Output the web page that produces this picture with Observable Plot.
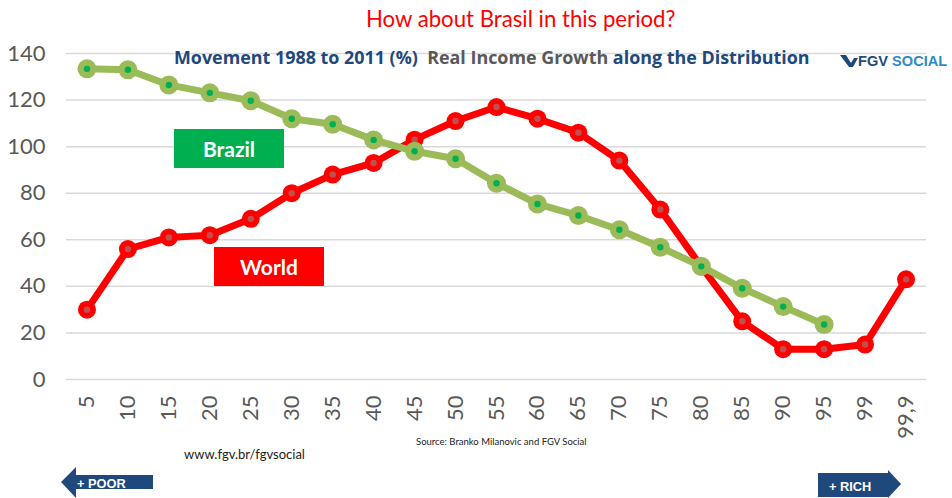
<!DOCTYPE html>
<html>
<head>
<meta charset="utf-8">
<script src="https://cdn.jsdelivr.net/npm/d3@7"></script>
<script src="https://cdn.jsdelivr.net/npm/@observablehq/plot@0.6"></script>
<style>
  html, body { margin: 0; padding: 0; background: #fff; }
  #wrap { position: relative; width: 952px; height: 498px; overflow: hidden; font-family: Lato, "Open Sans", sans-serif; }
  .abs { position: absolute; white-space: nowrap; }
</style>
</head>
<body>
<div id="wrap"></div>
<script>
// ---- data ----
const percentiles = ["5","10","15","20","25","30","35","40","45","50","55","60","65","70","75","80","85","90","95","99","99,9"];
const worldGrowth = [30, 56, 61, 62, 69, 80, 88, 93, 103, 111, 117, 112, 106, 94, 73, 48.5, 25, 13, 13, 15, 43];
const brazilGrowth = [133.4, 133, 126.5, 123.1, 119.7, 112, 109.6, 102.9, 98, 94.8, 84.3, 75.4, 70.4, 64.3, 56.8, 48.6, 39.2, 31.3, 23.6];
const yTicks = [0, 20, 40, 60, 80, 100, 120, 140];
const titleText = "How about Brasil in this period?";
const sourceText = "Source: Branko Milanovic and FGV Social";
const siteText = "www.fgv.br/fgvsocial";

const world = percentiles.map((p, i) => ({p, v: worldGrowth[i]}));
const brazil = brazilGrowth.map((v, i) => ({p: percentiles[i], v}));

const chart = Plot.plot({
  width: 952,
  height: 498,
  marginLeft: 66,
  marginRight: 26,
  marginTop: 53,
  marginBottom: 119,
  style: {fontFamily: "Lato, sans-serif", color: "#595959", background: "transparent"},
  x: {type: "band", domain: percentiles, padding: 0, round: false, label: null},
  y: {domain: [0, 140], label: null},
  marks: [
    Plot.gridY(yTicks, {stroke: "#d9d9d9", strokeOpacity: 1, strokeWidth: 1.5}),
    Plot.axisY(yTicks, {tickSize: 0, tickPadding: 21, fontSize: 22, fill: "#595959", label: null}),
    Plot.axisX({tickSize: 0, tickPadding: 16, tickRotate: -90, fontSize: 22, fill: "#595959", label: null}),
    Plot.line(world, {x: "p", y: "v", stroke: "#ff0000", strokeWidth: 7, strokeLinejoin: "round"}),
    Plot.dot(world, {x: "p", y: "v", r: 9, fill: "#ff0000", stroke: "none"}),
    Plot.dot(world, {x: "p", y: "v", r: 3.2, fill: "#c0504d", stroke: "none"}),
    Plot.line(brazil, {x: "p", y: "v", stroke: "#9bbb59", strokeWidth: 7, strokeLinejoin: "round"}),
    Plot.dot(brazil, {x: "p", y: "v", r: 9.5, fill: "#9bbb59", stroke: "none"}),
    Plot.dot(brazil, {x: "p", y: "v", r: 3.2, fill: "#00b050", stroke: "none"})
  ]
});
chart.style.position = "absolute";
chart.style.left = "0px";
chart.style.top = "0px";
const wrap = document.getElementById("wrap");
wrap.appendChild(chart);

function addDiv(html, css) {
  const d = document.createElement("div");
  d.className = "abs";
  d.innerHTML = html;
  Object.assign(d.style, css);
  wrap.appendChild(d);
  return d;
}

// Title
addDiv(titleText, {left: "366px", top: "5px", fontSize: "22.2px", color: "#ff0000", fontFamily: "Lato, sans-serif", lineHeight: "28px"});

// Subtitle
addDiv('<span style="color:#1f497d">Movement 1988 to 2011 (%)</span>&nbsp;&nbsp;<span style="color:#595959">Real Income Growth</span> <span style="color:#1f497d">along the Distribution</span>',
  {left: "174px", top: "44px", fontSize: "17.9px", fontWeight: "700", fontFamily: "'Open Sans', sans-serif", lineHeight: "26px"});

// Logo
addDiv('<svg width="18" height="12" style="vertical-align:-1px"><polygon points="0,0 6,0 11,8 14,3 18,3 13,12 9,12" fill="#1f497d"/></svg><span style="color:#1f497d">FGV</span> <span style="color:#2e8bc9">SOCIAL</span>',
  {left: "840px", top: "51px", fontSize: "14.6px", fontWeight: "700", fontFamily: "'Liberation Sans', Arial, sans-serif", lineHeight: "20px"});

// Series labels
addDiv("Brazil", {left: "174px", top: "129px", width: "110px", height: "39px", background: "#00b050", color: "#fff", fontWeight: "700", fontSize: "21px", textAlign: "center", lineHeight: "39px", fontFamily: "Lato, sans-serif"});
addDiv("World", {left: "214px", top: "247px", width: "110px", height: "39px", background: "#ff0000", color: "#fff", fontWeight: "700", fontSize: "21px", textAlign: "center", lineHeight: "39px", fontFamily: "Lato, sans-serif"});

// Source & site
addDiv(sourceText, {left: "416px", top: "436px", fontSize: "9.5px", color: "#222", fontFamily: "Lato, sans-serif", lineHeight: "12px"});
addDiv(siteText, {left: "184px", top: "446px", fontSize: "13px", color: "#222", fontFamily: "Lato, sans-serif", lineHeight: "16px"});

// Arrows
addDiv('<svg width="100" height="32"><polygon points="0,15 15,0 15,8 92,8 92,22 15,22 15,31" fill="#1f497d"/><text x="16" y="20.5" fill="#fff" font-size="12.8" font-weight="700" font-family="Liberation Sans, Arial, sans-serif">+ POOR</text></svg>',
  {left: "61px", top: "467px"});
addDiv('<svg width="90" height="32"><polygon points="0,3 70,3 70,0 83,14 70,28 70,27 0,27" fill="#1f497d"/><text x="11" y="20.5" fill="#fff" font-size="12.8" font-weight="700" font-family="Liberation Sans, Arial, sans-serif">+ RICH</text></svg>',
  {left: "818px", top: "470px"});
</script>
</body>
</html>
